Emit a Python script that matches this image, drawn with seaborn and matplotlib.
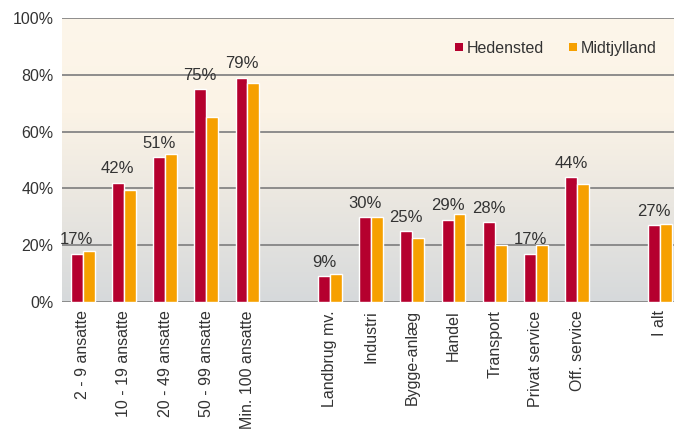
import numpy as np
import pandas as pd
import matplotlib
matplotlib.use("Agg")
import matplotlib.pyplot as plt
from matplotlib.lines import Line2D
from matplotlib.colors import LinearSegmentedColormap
import seaborn as sns

categories = ["2 - 9 ansatte", "10 - 19 ansatte", "20 - 49 ansatte", "50 - 99 ansatte",
              "Min. 100 ansatte", "Landbrug mv.", "Industri", "Bygge-anlæg", "Handel",
              "Transport", "Privat service", "Off. service", "I alt"]
hedensted = [17, 42, 51, 75, 79, 9, 30, 25, 29, 28, 17, 44, 27]
midtjylland = [18, 39.5, 52, 65, 77, 10, 30, 22.5, 31, 20, 20, 41.5, 27.3]
series = ["Hedensted", "Midtjylland"]
yticks = [0, 20, 40, 60, 80, 100]

order = categories[:5] + [" "] + categories[5:12] + ["  "] + categories[12:]

df = pd.DataFrame({
    "cat": categories * 2,
    "val": hedensted + midtjylland,
    "series": [series[0]] * len(categories) + [series[1]] * len(categories),
})

colors = {"Hedensted": "#B5002E", "Midtjylland": "#F6A000"}

sns.set_theme(style="white")
plt.rcParams["font.family"] = ["Liberation Sans", "DejaVu Sans"]

fig = plt.figure(figsize=(6.75, 4.3), dpi=100)
ax = fig.add_axes([62 / 675, 128 / 430, (674 - 62) / 675, 284 / 430])

# gradient background
cmap = LinearSegmentedColormap.from_list("bg", ["#D6D9DB", "#E9E6E0", "#FBF3E6", "#FDF6EA"])
grad = np.linspace(0, 1, 256).reshape(-1, 1)
ax.imshow(grad, extent=[-0.52, 14.35, 0, 100], origin="lower", aspect="auto",
          cmap=cmap, zorder=0)

sns.barplot(data=df, x="cat", y="val", hue="series", order=order,
            hue_order=series, palette=colors, width=0.58, saturation=1,
            ax=ax, zorder=3, legend=False)

ax.set_xlim(-0.5, 14.35)
ax.set_ylim(0, 100)
ax.set_yticks(yticks)
ax.set_yticklabels([f"{v}%" for v in yticks], fontsize=11.5, color="#333333")
ax.yaxis.grid(True, color="#858585", linewidth=1.3, zorder=1)
ax.set_axisbelow(True)
for s in ax.spines.values():
    s.set_visible(False)
ax.tick_params(axis="both", length=0, pad=6)
ax.set_xlabel("")
ax.set_ylabel("")
ax.set_xticks(range(len(order)))
ax.set_xticklabels(order, rotation=90, fontsize=11.5, color="#333333", va="top")

# data labels above Hedensted bars
for i, name in enumerate(order):
    if name in categories:
        v = hedensted[categories.index(name)]
        ax.annotate(f"{v}%", xy=(i - 0.145, v), xytext=(0, 4.5), textcoords="offset points",
                    ha="center", va="bottom", fontsize=12, color="#333333")

handles = [Line2D([], [], marker="s", linestyle="", markersize=6,
                  markerfacecolor=colors[s], markeredgewidth=0) for s in series]
ax.legend(handles, series, loc="upper right", bbox_to_anchor=(0.995, 0.97), ncol=2,
          frameon=False, fontsize=11.5, handletextpad=0.1, columnspacing=1.4,
          handlelength=0.8, labelcolor="#333333")

fig.savefig("out.png", dpi=100)
